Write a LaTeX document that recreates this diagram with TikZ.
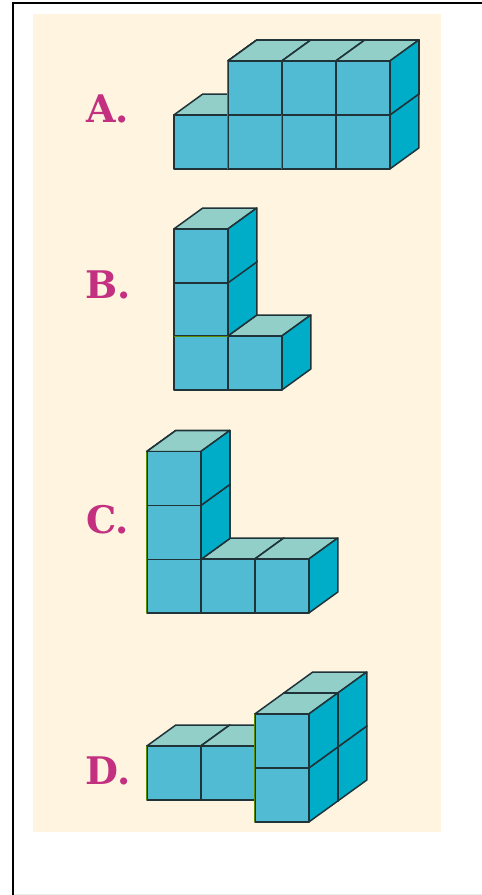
\documentclass[tikz,border=0pt]{standalone}
\usepackage{fontspec}
\newfontfamily\labelfont{DejaVu Serif}
\definecolor{pagecream}{HTML}{FEF4E0}
\definecolor{cubefront}{HTML}{50BBD2}
\definecolor{cuberight}{HTML}{00ADC8}
\definecolor{cubetop}{HTML}{92CFC8}
\definecolor{cubeline}{HTML}{1F3338}
\definecolor{choicepink}{HTML}{C2307F}
\definecolor{edgegreen}{HTML}{5F8A00}
\tikzset{
  cubeface/.style={draw=cubeline, line width=1.5pt, line join=round},
  choice/.style={text=choicepink, anchor=base west, inner sep=0pt, font=\labelfont\bfseries\fontsize{38}{38}\selectfont},
  greenedge/.style={draw=edgegreen, line width=1.6pt}
}
% #1,#2: lower left corner of the front face
\newcommand{\blockcube}[2]{
  \draw[cubeface, fill=cubetop] (#1,#2-54) -- ++(29,-21) -- ++(54,0) -- ++(-29,21) -- cycle;
  \draw[cubeface, fill=cuberight] (#1+54,#2) -- ++(29,-21) -- ++(0,-54) -- ++(-29,21) -- cycle;
  \draw[cubeface, fill=cubefront] (#1,#2) rectangle ++(54,-54);
}
\begin{document}
\begin{tikzpicture}[x=1pt, y=-1pt]
  \useasboundingbox (0,0) rectangle (482,895);
  \fill[white] (0,0) rectangle (482,895);
  \fill[pagecream] (33,14) rectangle (441,832);
  \draw[black, line width=2pt] (13.3,895) -- (13.3,3.3) -- (482,3.3);
  \draw[black!8, line width=1pt] (14,894.5) -- (482,894.5);

  % A
  \node[choice] (labelA) at (86,122) {A.};
  \foreach \x in {173.8,227.8,281.8,335.8} \blockcube{\x}{169}
  \foreach \x in {227.8,281.8,335.8} \blockcube{\x}{115}
  \draw[greenedge] (227.6,61) -- (227.6,169);
  \draw[greenedge] (281.6,115) -- (281.6,169);

  % B
  \node[choice] (labelB) at (85.5,298) {B.};
  \blockcube{173.8}{390}
  \blockcube{227.8}{390}
  \blockcube{173.8}{336}
  \blockcube{173.8}{283}
  \draw[greenedge] (173.8,336.4) -- (227.8,336.4);

  % C
  \node[choice] (labelC) at (86,533) {C.};
  \foreach \x in {146.8,200.8,254.8} \blockcube{\x}{613}
  \blockcube{146.8}{559.5}
  \blockcube{146.8}{505.5}
  \draw[greenedge] (146.6,451.5) -- (146.6,613);

  % D
  \node[choice] (labelD) at (85.5,784) {D.};
  \blockcube{283.8}{801}
  \blockcube{283.8}{747}
  \blockcube{146.8}{800}
  \blockcube{200.8}{800}
  \blockcube{254.8}{822}
  \blockcube{254.8}{768}
  \draw[greenedge] (146.6,746) -- (146.6,800);
  \draw[greenedge] (254.6,714) -- (254.6,822);
\end{tikzpicture}
\end{document}
